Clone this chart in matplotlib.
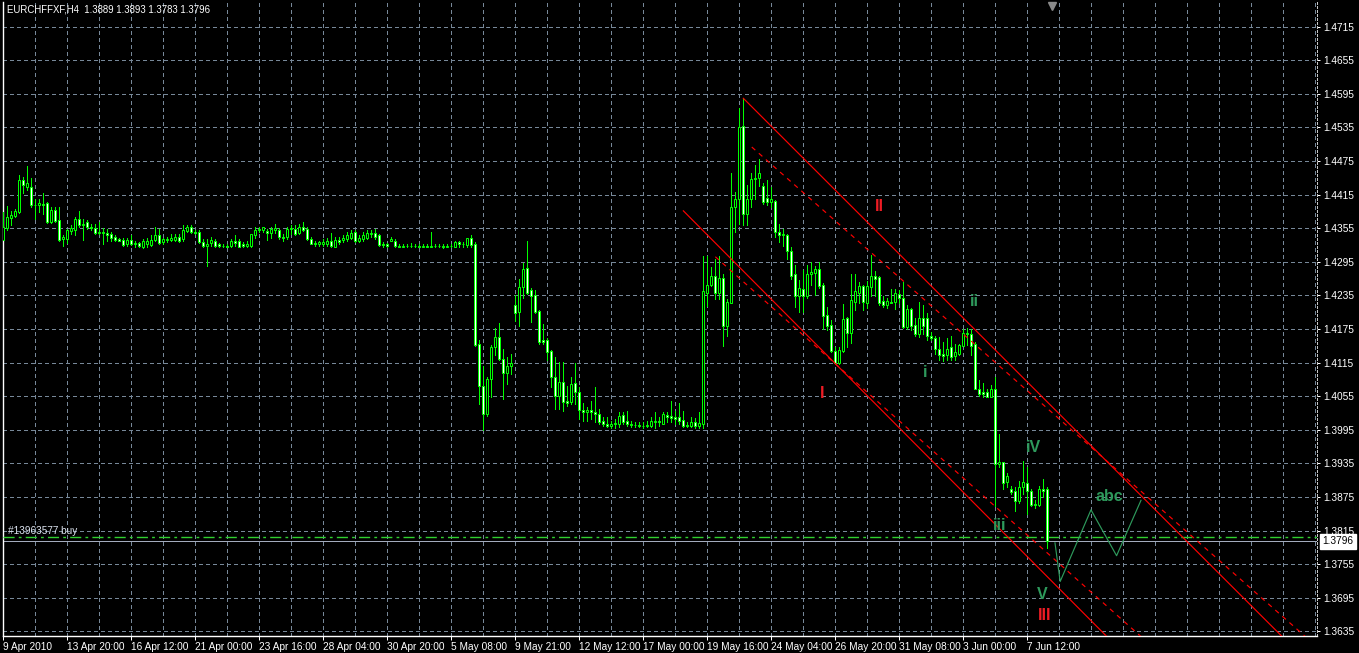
import numpy as np
import matplotlib
matplotlib.use("Agg")
from matplotlib import pyplot as plt
from matplotlib import transforms

plt.rcParams['font.family'] = ['Liberation Sans', 'DejaVu Sans']

# EURCHF H4 bars (one row of 10 bars per line)
open_price = [
    1.4334, 1.4356, 1.4373, 1.4377, 1.4384, 1.4441, 1.4429, 1.4428, 1.4396, 1.4397,
    1.4399, 1.4400, 1.4366, 1.4388, 1.4369, 1.4336, 1.4336, 1.4350, 1.4351, 1.4371,
    1.4360, 1.4366, 1.4358, 1.4356, 1.4347, 1.4348, 1.4346, 1.4344, 1.4340, 1.4336,
    1.4334, 1.4326, 1.4334, 1.4327, 1.4328, 1.4322, 1.4327, 1.4325, 1.4334, 1.4342,
    1.4330, 1.4334, 1.4334, 1.4334, 1.4340, 1.4336, 1.4350, 1.4358, 1.4349, 1.4348,
    1.4331, 1.4324, 1.4328, 1.4333, 1.4326, 1.4323, 1.4324, 1.4324, 1.4332, 1.4332,
    1.4326, 1.4323, 1.4323, 1.4342, 1.4351, 1.4351, 1.4350, 1.4346, 1.4351, 1.4351,
    1.4340, 1.4339, 1.4353, 1.4354, 1.4347, 1.4358, 1.4354, 1.4336, 1.4329, 1.4327,
    1.4327, 1.4327, 1.4333, 1.4322, 1.4334, 1.4334, 1.4336, 1.4338, 1.4348, 1.4332,
    1.4335, 1.4338, 1.4344, 1.4347, 1.4342, 1.4327, 1.4326, 1.4333, 1.4333, 1.4324,
    1.4322, 1.4323, 1.4324, 1.4323, 1.4323, 1.4322, 1.4323, 1.4322, 1.4323, 1.4324,
    1.4323, 1.4322, 1.4323, 1.4322, 1.4330, 1.4326, 1.4325, 1.4337, 1.4326, 1.4148,
    1.4074, 1.4023, 1.4086, 1.4143, 1.4161, 1.4122, 1.4096, 1.4108, 1.4218, 1.4206,
    1.4250, 1.4284, 1.4245, 1.4236, 1.4207, 1.4155, 1.4155, 1.4136, 1.4090, 1.4056,
    1.4081, 1.4047, 1.4044, 1.4078, 1.4063, 1.4031, 1.4027, 1.4030, 1.4027, 1.4024,
    1.4010, 1.4005, 1.4002, 1.4005, 1.4005, 1.4021, 1.4011, 1.4005, 1.4003, 1.4004,
    1.4002, 1.4001, 1.4002, 1.4009, 1.4011, 1.4006, 1.4022, 1.4020, 1.4017, 1.4017,
    1.4013, 1.4003, 1.4002, 1.4008, 1.4001, 1.4005, 1.4240, 1.4253, 1.4270, 1.4240,
    1.4266, 1.4180, 1.4222, 1.4392, 1.4407, 1.4538, 1.4381, 1.4408, 1.4442, 1.4445,
    1.4430, 1.4409, 1.4402, 1.4403, 1.4348, 1.4342, 1.4343, 1.4315, 1.4274, 1.4234,
    1.4246, 1.4233, 1.4274, 1.4275, 1.4282, 1.4254, 1.4200, 1.4182, 1.4136, 1.4115,
    1.4136, 1.4194, 1.4167, 1.4224, 1.4240, 1.4251, 1.4222, 1.4250, 1.4270, 1.4268,
    1.4225, 1.4218, 1.4224, 1.4224, 1.4238, 1.4230, 1.4179, 1.4211, 1.4182, 1.4166,
    1.4194, 1.4195, 1.4162, 1.4159, 1.4140, 1.4131, 1.4128, 1.4142, 1.4126, 1.4131,
    1.4145, 1.4168, 1.4166, 1.4149, 1.4068, 1.4062, 1.4062, 1.4054, 1.4068, 1.3934,
    1.3937, 1.3901, 1.3889, 1.3885, 1.3867, 1.3893, 1.3899, 1.3886, 1.3863, 1.3861,
    1.3889, 1.3889,
]
high_price = [
    1.4384, 1.4394, 1.4385, 1.4390, 1.4450, 1.4447, 1.4466, 1.4444, 1.4408, 1.4408,
    1.4417, 1.4402, 1.4393, 1.4393, 1.4392, 1.4343, 1.4354, 1.4360, 1.4375, 1.4385,
    1.4372, 1.4369, 1.4363, 1.4362, 1.4366, 1.4356, 1.4353, 1.4348, 1.4343, 1.4338,
    1.4338, 1.4338, 1.4342, 1.4333, 1.4331, 1.4336, 1.4338, 1.4342, 1.4357, 1.4353,
    1.4338, 1.4340, 1.4345, 1.4345, 1.4345, 1.4360, 1.4360, 1.4360, 1.4352, 1.4351,
    1.4336, 1.4336, 1.4339, 1.4336, 1.4328, 1.4326, 1.4327, 1.4336, 1.4342, 1.4336,
    1.4330, 1.4333, 1.4345, 1.4357, 1.4358, 1.4358, 1.4354, 1.4358, 1.4362, 1.4356,
    1.4345, 1.4357, 1.4360, 1.4360, 1.4363, 1.4366, 1.4357, 1.4339, 1.4332, 1.4333,
    1.4335, 1.4338, 1.4346, 1.4339, 1.4340, 1.4342, 1.4348, 1.4351, 1.4351, 1.4342,
    1.4348, 1.4351, 1.4352, 1.4354, 1.4345, 1.4330, 1.4328, 1.4340, 1.4336, 1.4327,
    1.4327, 1.4327, 1.4328, 1.4326, 1.4326, 1.4326, 1.4326, 1.4348, 1.4327, 1.4327,
    1.4326, 1.4326, 1.4327, 1.4333, 1.4333, 1.4330, 1.4338, 1.4342, 1.4330, 1.4156,
    1.4108, 1.4089, 1.4146, 1.4176, 1.4185, 1.4140, 1.4125, 1.4130, 1.4236, 1.4264,
    1.4293, 1.4333, 1.4248, 1.4244, 1.4209, 1.4184, 1.4158, 1.4138, 1.4125, 1.4116,
    1.4116, 1.4074, 1.4089, 1.4114, 1.4071, 1.4042, 1.4036, 1.4046, 1.4071, 1.4032,
    1.4017, 1.4017, 1.4011, 1.4014, 1.4026, 1.4026, 1.4029, 1.4011, 1.4009, 1.4008,
    1.4008, 1.4011, 1.4017, 1.4026, 1.4017, 1.4026, 1.4026, 1.4046, 1.4029, 1.4042,
    1.4029, 1.4008, 1.4017, 1.4016, 1.4026, 1.4306, 1.4306, 1.4285, 1.4300, 1.4306,
    1.4273, 1.4228, 1.4453, 1.4420, 1.4570, 1.4588, 1.4432, 1.4453, 1.4468, 1.4479,
    1.4435, 1.4441, 1.4429, 1.4405, 1.4363, 1.4354, 1.4345, 1.4321, 1.4290, 1.4263,
    1.4281, 1.4290, 1.4294, 1.4288, 1.4294, 1.4257, 1.4214, 1.4191, 1.4143, 1.4143,
    1.4220, 1.4196, 1.4274, 1.4274, 1.4258, 1.4254, 1.4260, 1.4308, 1.4278, 1.4270,
    1.4233, 1.4230, 1.4246, 1.4246, 1.4244, 1.4258, 1.4218, 1.4212, 1.4194, 1.4224,
    1.4218, 1.4204, 1.4170, 1.4162, 1.4161, 1.4152, 1.4158, 1.4162, 1.4149, 1.4149,
    1.4175, 1.4177, 1.4175, 1.4151, 1.4084, 1.4078, 1.4067, 1.4075, 1.4090, 1.3988,
    1.3937, 1.3917, 1.3895, 1.3892, 1.3904, 1.3940, 1.3928, 1.3889, 1.3869, 1.3895,
    1.3907, 1.3893,
]
low_price = [
    1.4334, 1.4351, 1.4360, 1.4375, 1.4382, 1.4417, 1.4423, 1.4393, 1.4372, 1.4384,
    1.4381, 1.4364, 1.4364, 1.4366, 1.4332, 1.4324, 1.4328, 1.4345, 1.4342, 1.4357,
    1.4334, 1.4354, 1.4351, 1.4345, 1.4345, 1.4326, 1.4333, 1.4333, 1.4332, 1.4332,
    1.4324, 1.4324, 1.4325, 1.4321, 1.4321, 1.4320, 1.4321, 1.4324, 1.4333, 1.4327,
    1.4327, 1.4330, 1.4332, 1.4332, 1.4330, 1.4333, 1.4348, 1.4346, 1.4345, 1.4328,
    1.4321, 1.4288, 1.4324, 1.4322, 1.4321, 1.4321, 1.4321, 1.4322, 1.4324, 1.4321,
    1.4321, 1.4321, 1.4321, 1.4338, 1.4348, 1.4348, 1.4334, 1.4338, 1.4346, 1.4336,
    1.4332, 1.4336, 1.4345, 1.4342, 1.4345, 1.4350, 1.4334, 1.4326, 1.4324, 1.4323,
    1.4324, 1.4323, 1.4321, 1.4321, 1.4327, 1.4330, 1.4333, 1.4335, 1.4330, 1.4330,
    1.4333, 1.4336, 1.4340, 1.4336, 1.4324, 1.4322, 1.4321, 1.4332, 1.4321, 1.4321,
    1.4321, 1.4321, 1.4321, 1.4321, 1.4321, 1.4321, 1.4321, 1.4321, 1.4321, 1.4321,
    1.4320, 1.4321, 1.4321, 1.4321, 1.4321, 1.4321, 1.4322, 1.4321, 1.4145, 1.4041,
    1.3994, 1.4020, 1.4053, 1.4128, 1.4119, 1.4050, 1.4077, 1.4095, 1.4190, 1.4180,
    1.4230, 1.4238, 1.4188, 1.4203, 1.4149, 1.4148, 1.4119, 1.4071, 1.4032, 1.4032,
    1.4029, 1.4038, 1.4041, 1.4041, 1.4014, 1.4011, 1.4010, 1.4014, 1.4008, 1.4005,
    1.4002, 1.4000, 1.3999, 1.3999, 1.4000, 1.4005, 1.4002, 1.4000, 1.4000, 1.4000,
    1.3999, 1.4000, 1.4000, 1.3999, 1.4002, 1.4005, 1.4008, 1.4008, 1.4005, 1.4005,
    1.4000, 1.4000, 1.4000, 1.3999, 1.3999, 1.3999, 1.4216, 1.4252, 1.4228, 1.4229,
    1.4144, 1.4162, 1.4222, 1.4348, 1.4363, 1.4361, 1.4360, 1.4393, 1.4408, 1.4430,
    1.4399, 1.4397, 1.4393, 1.4339, 1.4330, 1.4324, 1.4300, 1.4264, 1.4215, 1.4206,
    1.4206, 1.4230, 1.4254, 1.4236, 1.4248, 1.4175, 1.4174, 1.4134, 1.4113, 1.4113,
    1.4134, 1.4143, 1.4150, 1.4209, 1.4222, 1.4209, 1.4213, 1.4233, 1.4233, 1.4218,
    1.4214, 1.4212, 1.4221, 1.4210, 1.4221, 1.4176, 1.4175, 1.4173, 1.4162, 1.4161,
    1.4166, 1.4155, 1.4155, 1.4131, 1.4119, 1.4118, 1.4119, 1.4120, 1.4119, 1.4128,
    1.4144, 1.4147, 1.4129, 1.4067, 1.4055, 1.4054, 1.4053, 1.4053, 1.3859, 1.3928,
    1.3889, 1.3892, 1.3881, 1.3849, 1.3865, 1.3880, 1.3845, 1.3859, 1.3855, 1.3859,
    1.3874, 1.3783,
]
close_price = [
    1.4357, 1.4375, 1.4378, 1.4385, 1.4441, 1.4432, 1.4435, 1.4396, 1.4397, 1.4400,
    1.4397, 1.4366, 1.4388, 1.4368, 1.4334, 1.4339, 1.4351, 1.4356, 1.4371, 1.4360,
    1.4363, 1.4357, 1.4355, 1.4346, 1.4349, 1.4347, 1.4343, 1.4337, 1.4334, 1.4333,
    1.4325, 1.4334, 1.4327, 1.4328, 1.4324, 1.4332, 1.4333, 1.4334, 1.4342, 1.4328,
    1.4336, 1.4336, 1.4337, 1.4340, 1.4333, 1.4351, 1.4358, 1.4348, 1.4347, 1.4330,
    1.4323, 1.4327, 1.4334, 1.4324, 1.4323, 1.4324, 1.4322, 1.4332, 1.4328, 1.4322,
    1.4323, 1.4326, 1.4344, 1.4351, 1.4354, 1.4357, 1.4346, 1.4353, 1.4355, 1.4339,
    1.4337, 1.4354, 1.4355, 1.4345, 1.4358, 1.4352, 1.4336, 1.4327, 1.4327, 1.4330,
    1.4330, 1.4332, 1.4324, 1.4334, 1.4330, 1.4337, 1.4342, 1.4346, 1.4332, 1.4337,
    1.4342, 1.4347, 1.4347, 1.4339, 1.4325, 1.4325, 1.4323, 1.4336, 1.4323, 1.4322,
    1.4323, 1.4324, 1.4323, 1.4323, 1.4322, 1.4323, 1.4322, 1.4323, 1.4324, 1.4323,
    1.4322, 1.4323, 1.4324, 1.4330, 1.4326, 1.4327, 1.4337, 1.4325, 1.4146, 1.4073,
    1.4023, 1.4086, 1.4143, 1.4160, 1.4122, 1.4096, 1.4108, 1.4114, 1.4203, 1.4250,
    1.4282, 1.4240, 1.4234, 1.4206, 1.4152, 1.4152, 1.4134, 1.4089, 1.4056, 1.4080,
    1.4044, 1.4043, 1.4077, 1.4062, 1.4031, 1.4026, 1.4030, 1.4026, 1.4023, 1.4008,
    1.4005, 1.4002, 1.4005, 1.4007, 1.4020, 1.4009, 1.4005, 1.4003, 1.4004, 1.4002,
    1.4001, 1.4003, 1.4010, 1.4011, 1.4009, 1.4023, 1.4018, 1.4016, 1.4014, 1.4011,
    1.4002, 1.4002, 1.4008, 1.4001, 1.4007, 1.4242, 1.4253, 1.4270, 1.4240, 1.4266,
    1.4180, 1.4223, 1.4392, 1.4407, 1.4535, 1.4381, 1.4408, 1.4442, 1.4445, 1.4453,
    1.4402, 1.4402, 1.4408, 1.4348, 1.4342, 1.4345, 1.4315, 1.4270, 1.4234, 1.4248,
    1.4233, 1.4274, 1.4277, 1.4282, 1.4251, 1.4199, 1.4180, 1.4136, 1.4114, 1.4137,
    1.4193, 1.4167, 1.4226, 1.4243, 1.4251, 1.4224, 1.4251, 1.4270, 1.4264, 1.4222,
    1.4218, 1.4225, 1.4222, 1.4239, 1.4230, 1.4179, 1.4211, 1.4180, 1.4166, 1.4194,
    1.4180, 1.4162, 1.4158, 1.4140, 1.4128, 1.4126, 1.4140, 1.4125, 1.4133, 1.4146,
    1.4168, 1.4166, 1.4145, 1.4068, 1.4059, 1.4059, 1.4054, 1.4068, 1.3934, 1.3937,
    1.3899, 1.3913, 1.3883, 1.3867, 1.3893, 1.3901, 1.3885, 1.3861, 1.3861, 1.3889,
    1.3886, 1.3796,
]

# time axis labels (bar index -> label)
tick_bars = [0, 16, 32, 48, 64, 80, 96, 112, 128, 144, 160, 176, 192, 208, 224, 240, 256]
tick_labels = ['9 Apr 2010', '13 Apr 20:00', '16 Apr 12:00', '21 Apr 00:00', '23 Apr 16:00',
               '28 Apr 04:00', '30 Apr 20:00', '5 May 08:00', '9 May 21:00', '12 May 12:00',
               '17 May 00:00', '19 May 16:00', '24 May 04:00', '26 May 20:00', '31 May 08:00',
               '3 Jun 00:00', '7 Jun 12:00']
price_levels = [1.3635, 1.3695, 1.3755, 1.3815, 1.3875, 1.3935, 1.3995, 1.4055, 1.4115, 1.4175,
                1.4235, 1.4295, 1.4355, 1.4415, 1.4475, 1.4535, 1.4595, 1.4655, 1.4715]

bid_price = 1.3796
buy_price = 1.3803

# wave counts: text, bar, price, colour
wave_text = ['I', 'II', 'III', 'i', 'ii', 'iii', 'iV', 'V', 'abc']
wave_bar = [204.7, 218.9, 260.3, 230.4, 242.7, 249.0, 257.5, 259.7, 276.4]
wave_price = [1.4059, 1.4393, 1.3663, 1.4098, 1.4224, 1.3824, 1.3963, 1.3701, 1.3875]
wave_color = ['#ee1c24'] * 3 + ['#2e9a5c'] * 6

# channel lines: (bar0, price0, bar1, price1, dashed)
channel_lines = [
    (185.0, 1.4587, 330.0, 1.3552, False),
    (187.1, 1.4500, 330.0, 1.3597, True),
    (170.0, 1.4386, 285.0, 1.3560, False),
    (178.0, 1.4304, 295.0, 1.3558, True),
]

# projected zigzag
zz_bar = [262.9, 264.2, 271.9, 278.3, 284.4]
zz_price = [1.3793, 1.3724, 1.3852, 1.3770, 1.3869]

o = np.array(open_price)
h = np.array(high_price)
l = np.array(low_price)
c = np.array(close_price)
x = np.arange(len(c))

fig = plt.figure(figsize=(13.59, 6.53), dpi=100, facecolor='black')
ax = fig.add_axes([2.5 / 1359, 17 / 653, 1314.5 / 1359, 634 / 653])
ax.set_facecolor('black')

px = 0.72  # one pixel in points
grid_kw = dict(color='#778899', lw=px, linestyle=(0, (4, 3)), zorder=0, antialiased=False)
for b in range(8, 336, 8):
    ax.axvline(b, **grid_kw)
for p in price_levels:
    ax.axhline(p, **grid_kw)

# candles
lime = '#00ff00'
ax.vlines(x, l, h, color=lime, lw=px, zorder=3, antialiased=False)
body_lo = np.minimum(o, c)
body_h = np.maximum(np.abs(c - o), 0.00002)
fills = np.where(c >= o, 'black', 'white')
ax.bar(x, body_h, bottom=body_lo, width=0.5, color=fills, edgecolor=lime,
       linewidth=px, zorder=4)

# channel lines
for b0, p0, b1, p1, dashed in channel_lines:
    ls = (0, (4, 4)) if dashed else '-'
    ax.plot([b0, b1], [p0, p1], color='#ff0000', lw=0.85, linestyle=ls, zorder=5)

ax.plot(zz_bar, zz_price, color='#2e9a5c', lw=0.85, zorder=5)

# order and bid lines
ax.axhline(bid_price, color='#a3acbd', lw=px, zorder=2, antialiased=False)
ax.axhline(buy_price, color='#2fd02f', lw=1.0, linestyle=(0, (8, 3, 2, 3)), zorder=3)
ax.text(1.2, buy_price + 0.0002, '#13963577 buy', color='#dde4f0', fontsize=7.2,
        va='bottom', ha='left', zorder=6)

for t, b, p, col in zip(wave_text, wave_bar, wave_price, wave_color):
    ax.text(b, p, t, color=col, fontsize=11.5, fontweight='bold', ha='center',
            va='center', zorder=6)

# chart shift marker
ax.plot([len(c) + 0.2], [0.994], marker='v', color='#8a8a8a', markersize=6,
        transform=transforms.blended_transform_factory(ax.transData, ax.transAxes),
        clip_on=False, zorder=7)

ax.set_xlim(-0.2, 328.4)
ax.set_ylim(1.36266, 1.47590)

ax.set_xticks(tick_bars)
ax.set_xticklabels(tick_labels, ha='left')
ax.set_yticks(price_levels)
ax.set_yticklabels(['%.4f' % p for p in price_levels])
ax.yaxis.tick_right()
ax.tick_params(axis='x', colors='white', labelsize=7.3, length=3, width=px, pad=1.5)
ax.tick_params(axis='y', colors='white', labelsize=7.3, length=2.5, width=px, pad=2)

for side in ['left', 'bottom']:
    ax.spines[side].set_color('white')
    ax.spines[side].set_linewidth(1.0)
ax.spines['right'].set_color('#c8c8c8')
ax.spines['right'].set_linewidth(px)
ax.spines['right'].set_linestyle((0, (2, 2)))
ax.spines['top'].set_visible(False)

# current price box on the scale
ax.annotate('%.4f' % bid_price, xy=(1.0, bid_price),
            xycoords=('axes fraction', 'data'), xytext=(4, 0), textcoords='offset points',
            va='center', ha='left', fontsize=7.3, color='black',
            bbox=dict(boxstyle='square,pad=0.25', fc='white', ec='white'), zorder=8,
            annotation_clip=False)

fig.text(7 / 1359, 1 - 9 / 653, 'EURCHFFXF,H4  1.3889 1.3893 1.3783 1.3796',
         color='white', fontsize=6.9, va='center', ha='left')

fig.savefig('out.png', dpi=100, facecolor='black')
